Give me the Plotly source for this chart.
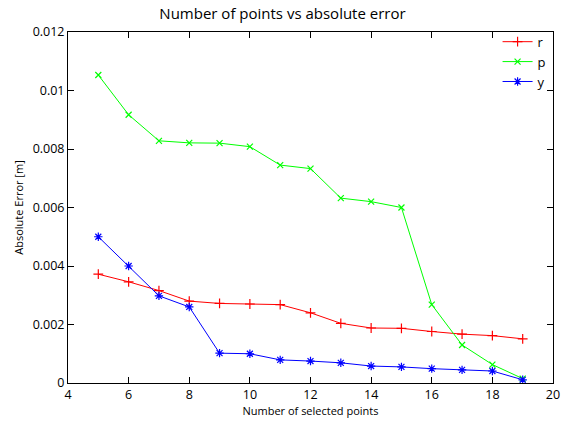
import plotly.graph_objects as go

n_points = [5, 6, 7, 8, 9, 10, 11, 12, 13, 14, 15, 16, 17, 18, 19]
err_r = [0.00372, 0.00346, 0.00316, 0.00280, 0.00272, 0.00270, 0.00268, 0.00240, 0.00204, 0.00188, 0.00187, 0.00176, 0.00167, 0.00162, 0.00151]
err_p = [0.01053, 0.00917, 0.00828, 0.00821, 0.00820, 0.00808, 0.00745, 0.00733, 0.00632, 0.00620, 0.00600, 0.00268, 0.00130, 0.00063, 0.00015]
err_y = [0.00500, 0.00400, 0.00298, 0.00260, 0.00102, 0.00100, 0.00079, 0.00075, 0.00069, 0.00058, 0.00055, 0.00049, 0.00045, 0.00041, 0.00011]

x_ticks = [4, 6, 8, 10, 12, 14, 16, 18, 20]
y_ticks = [0, 0.002, 0.004, 0.006, 0.008, 0.01, 0.012]
y_tick_labels = ["0", "0.002", "0.004", "0.006", "0.008", "0.01", "0.012"]

FONT = "Open Sans"

fig = go.Figure()
series = [
    ("r", err_r, "#ff0000", "cross-thin", 7),
    ("p", err_p, "#00ff00", "x-thin", 6),
    ("y", err_y, "#0000ff", "asterisk", 7),
]
for name, vals, col, sym, sz in series:
    fig.add_trace(go.Scatter(
        x=n_points, y=vals, name=name, mode="lines+markers",
        line=dict(color=col, width=1),
        marker=dict(symbol=sym, size=sz, color=col, line=dict(color=col, width=1.2)),
    ))

axis_common = dict(
    showline=True, linecolor="black", linewidth=1, mirror="ticks",
    ticks="inside", ticklen=6, tickcolor="black", tickwidth=1,
    showgrid=False, zeroline=False, automargin=False,
    tickfont=dict(family=FONT, size=12.5, color="black"),
)

fig.update_layout(
    width=565, height=422,
    margin=dict(l=68, r=12, t=32, b=39),
    paper_bgcolor="white", plot_bgcolor="white",
    font=dict(family=FONT, color="black"),
    title=dict(text="Number of points vs absolute error", x=0.5, xanchor="center",
               y=1 - 14 / 422, yanchor="middle", font=dict(family=FONT, size=15, color="black")),
    xaxis=dict(range=[4, 20], tickvals=x_ticks, ticktext=[str(t) for t in x_ticks],
               title=dict(text="Number of selected points", font=dict(family=FONT, size=11), standoff=4),
               **axis_common),
    yaxis=dict(range=[0, 0.012], tickvals=y_ticks, ticktext=y_tick_labels,
               title=dict(text="Absolute Error [m]", font=dict(family=FONT, size=11), standoff=6),
               **axis_common),
    showlegend=True,
    legend=dict(x=0.995, xanchor="right", y=1.015, yanchor="top",
                bgcolor="rgba(0,0,0,0)", font=dict(family=FONT, size=13, color="black"),
                tracegroupgap=0, itemwidth=30),
)

fig.write_html("out.html", config={"displayModeBar": False},
               post_script="document.body.style.margin='0';")
